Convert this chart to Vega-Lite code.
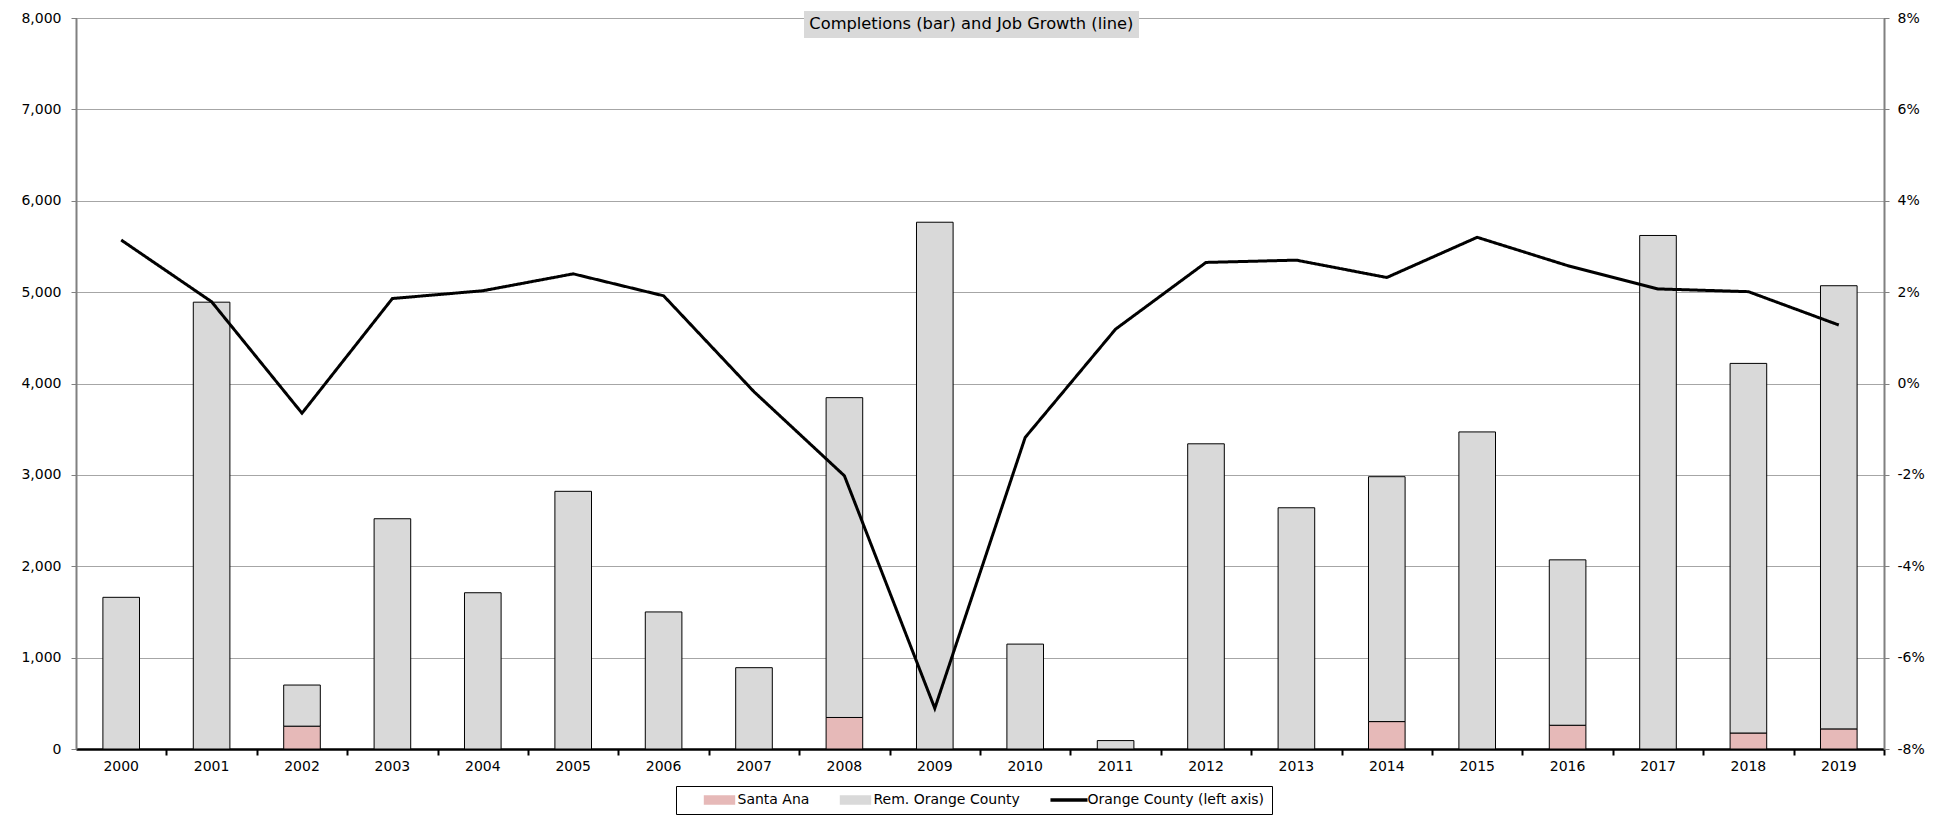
{
  "$schema": "https://vega.github.io/schema/vega-lite/v6.json",
  "width": 1808,
  "height": 731,
  "autosize": "none",
  "padding": {"left": 76, "top": 18, "right": 60, "bottom": 76},
  "background": "white",
  "datasets": {
    "completions": [
      {"year": "2000", "series": "Rem. Orange County", "units": 1660},
      {"year": "2001", "series": "Rem. Orange County", "units": 4890},
      {"year": "2002", "series": "Santa Ana", "units": 250},
      {"year": "2002", "series": "Rem. Orange County", "units": 450},
      {"year": "2003", "series": "Rem. Orange County", "units": 2520},
      {"year": "2004", "series": "Rem. Orange County", "units": 1710},
      {"year": "2005", "series": "Rem. Orange County", "units": 2820},
      {"year": "2006", "series": "Rem. Orange County", "units": 1500},
      {"year": "2007", "series": "Rem. Orange County", "units": 890},
      {"year": "2008", "series": "Santa Ana", "units": 345},
      {"year": "2008", "series": "Rem. Orange County", "units": 3500},
      {"year": "2009", "series": "Rem. Orange County", "units": 5765},
      {"year": "2010", "series": "Rem. Orange County", "units": 1148},
      {"year": "2011", "series": "Rem. Orange County", "units": 92},
      {"year": "2012", "series": "Rem. Orange County", "units": 3340},
      {"year": "2013", "series": "Rem. Orange County", "units": 2640},
      {"year": "2014", "series": "Santa Ana", "units": 300},
      {"year": "2014", "series": "Rem. Orange County", "units": 2680},
      {"year": "2015", "series": "Rem. Orange County", "units": 3470},
      {"year": "2016", "series": "Santa Ana", "units": 260},
      {"year": "2016", "series": "Rem. Orange County", "units": 1810},
      {"year": "2017", "series": "Rem. Orange County", "units": 5620},
      {"year": "2018", "series": "Santa Ana", "units": 175},
      {"year": "2018", "series": "Rem. Orange County", "units": 4045},
      {"year": "2019", "series": "Santa Ana", "units": 220},
      {"year": "2019", "series": "Rem. Orange County", "units": 4850}
    ],
    "growth": [
      {"year": "2000", "series": "Orange County (left axis)", "growth": 0.0314},
      {"year": "2001", "series": "Orange County (left axis)", "growth": 0.0179},
      {"year": "2002", "series": "Orange County (left axis)", "growth": -0.0065},
      {"year": "2003", "series": "Orange County (left axis)", "growth": 0.0186},
      {"year": "2004", "series": "Orange County (left axis)", "growth": 0.0203},
      {"year": "2005", "series": "Orange County (left axis)", "growth": 0.0240},
      {"year": "2006", "series": "Orange County (left axis)", "growth": 0.0192},
      {"year": "2007", "series": "Orange County (left axis)", "growth": -0.0018},
      {"year": "2008", "series": "Orange County (left axis)", "growth": -0.0202},
      {"year": "2009", "series": "Orange County (left axis)", "growth": -0.0711},
      {"year": "2010", "series": "Orange County (left axis)", "growth": -0.0118},
      {"year": "2011", "series": "Orange County (left axis)", "growth": 0.0119},
      {"year": "2012", "series": "Orange County (left axis)", "growth": 0.0265},
      {"year": "2013", "series": "Orange County (left axis)", "growth": 0.0270},
      {"year": "2014", "series": "Orange County (left axis)", "growth": 0.0232},
      {"year": "2015", "series": "Orange County (left axis)", "growth": 0.0320},
      {"year": "2016", "series": "Orange County (left axis)", "growth": 0.0258},
      {"year": "2017", "series": "Orange County (left axis)", "growth": 0.0207},
      {"year": "2018", "series": "Orange County (left axis)", "growth": 0.0201},
      {"year": "2019", "series": "Orange County (left axis)", "growth": 0.0128}
    ]
  },
  "config": {
    "view": {"stroke": "black", "strokeWidth": 1},
    "font": "DejaVu Sans",
    "axis": {"labelFont": "DejaVu Sans", "labelFontSize": 14, "labelColor": "black", "title": null}
  },
  "layer": [
    {
      "data": {"name": "completions"},
      "mark": {"type": "bar", "stroke": "black", "strokeWidth": 1},
      "encoding": {
        "x": {
          "field": "year",
          "type": "ordinal",
          "scale": {"paddingInner": 0.595, "paddingOuter": 0.2975},
          "axis": {
            "orient": "bottom",
            "title": null,
            "labelAngle": 0,
            "ticks": false,
            "tickSize": 0,
            "domainColor": "black",
            "domainWidth": 2.5,
            "labelPadding": 10,
            "grid": false
          }
        },
        "y": {
          "field": "units",
          "type": "quantitative",
          "stack": "zero",
          "scale": {"domain": [0, 8000], "nice": false},
          "axis": {
            "title": null,
            "values": [0, 1000, 2000, 3000, 4000, 5000, 6000, 7000, 8000],
            "format": ",.0f",
            "domainColor": "#808080",
            "domainWidth": 2,
            "tickColor": "#808080",
            "tickSize": 5,
            "labelPadding": 10,
            "grid": true,
            "gridColor": "#a6a6a6",
            "gridWidth": 1
          }
        },
        "order": {"field": "series", "sort": "descending"},
        "color": {
          "field": "series",
          "type": "nominal",
          "scale": {
            "domain": ["Santa Ana", "Rem. Orange County", "Orange County (left axis)"],
            "range": ["#e6b9b8", "#d9d9d9", "#000000"]
          },
          "legend": {
            "title": null,
            "orient": "none",
            "legendX": 600,
            "legendY": 768,
            "direction": "horizontal",
            "strokeColor": "black",
            "fillColor": "white",
            "padding": 7,
            "symbolType": "M-2.4,0M-1,-0.27H1V0.27H-1Z",
            "symbolSize": 900,
            "symbolOffset": 29.5,
            "symbolStrokeColor": "black",
            "symbolStrokeWidth": 1,
            "labelFont": "DejaVu Sans",
            "labelFontSize": 14,
            "labelColor": "black",
            "labelOffset": 11,
            "labelLimit": 400,
            "columnPadding": 6,
            "encoding": {
              "symbols": {
                "shape": {"value": {"expr": "datum.value === 'Orange County (left axis)' ? 'M-2.4,0M-1.27,0H1.2' : 'M-2.4,0M-1,-0.27H1V0.27H-1Z'"}},
                "stroke": {"value": "#000000"},
                "strokeOpacity": {"value": 1},
                "strokeWidth": {"value": {"expr": "datum.value === 'Orange County (left axis)' ? 3.5 : 1.4"}}
              }
            }
          }
        }
      }
    },
    {
      "data": {"name": "growth"},
      "mark": {"type": "line", "strokeWidth": 3},
      "encoding": {
        "x": {
          "field": "year",
          "type": "ordinal",
          "axis": {
            "orient": "bottom",
            "title": null,
            "labels": false,
            "domain": false,
            "grid": false,
            "ticks": true,
            "tickOffset": 45.2,
            "tickColor": "black",
            "tickWidth": 2,
            "tickSize": 6
          }
        },
        "y": {
          "field": "growth",
          "type": "quantitative",
          "scale": {"domain": [-0.08, 0.08], "nice": false},
          "axis": {
            "orient": "right",
            "title": null,
            "values": [-0.08, -0.06, -0.04, -0.02, 0, 0.02, 0.04, 0.06, 0.08],
            "format": ".0%",
            "labelExpr": "replace(datum.label, '\u2212', '-')",
            "domainColor": "#808080",
            "domainWidth": 2,
            "tickColor": "#808080",
            "tickSize": 5,
            "labelPadding": 8,
            "grid": false
          }
        },
        "color": {"field": "series", "type": "nominal", "legend": null},
        "strokeDash": {
          "datum": "Completions (bar) and Job Growth (line)",
          "scale": {"range": [[1, 0]]},
          "legend": {
            "title": null,
            "orient": "none",
            "legendX": 728,
            "legendY": -7,
            "fillColor": "#d9d9d9",
            "strokeColor": null,
            "padding": 5,
            "symbolOpacity": 0,
            "symbolSize": 1,
            "symbolStrokeWidth": 0,
            "labelOffset": -16,
            "labelFont": "DejaVu Sans",
            "labelFontSize": 16.3,
            "labelColor": "black",
            "labelLimit": 600
          }
        }
      }
    }
  ],
  "resolve": {"scale": {"y": "independent"}, "axis": {"x": "independent"}}
}
